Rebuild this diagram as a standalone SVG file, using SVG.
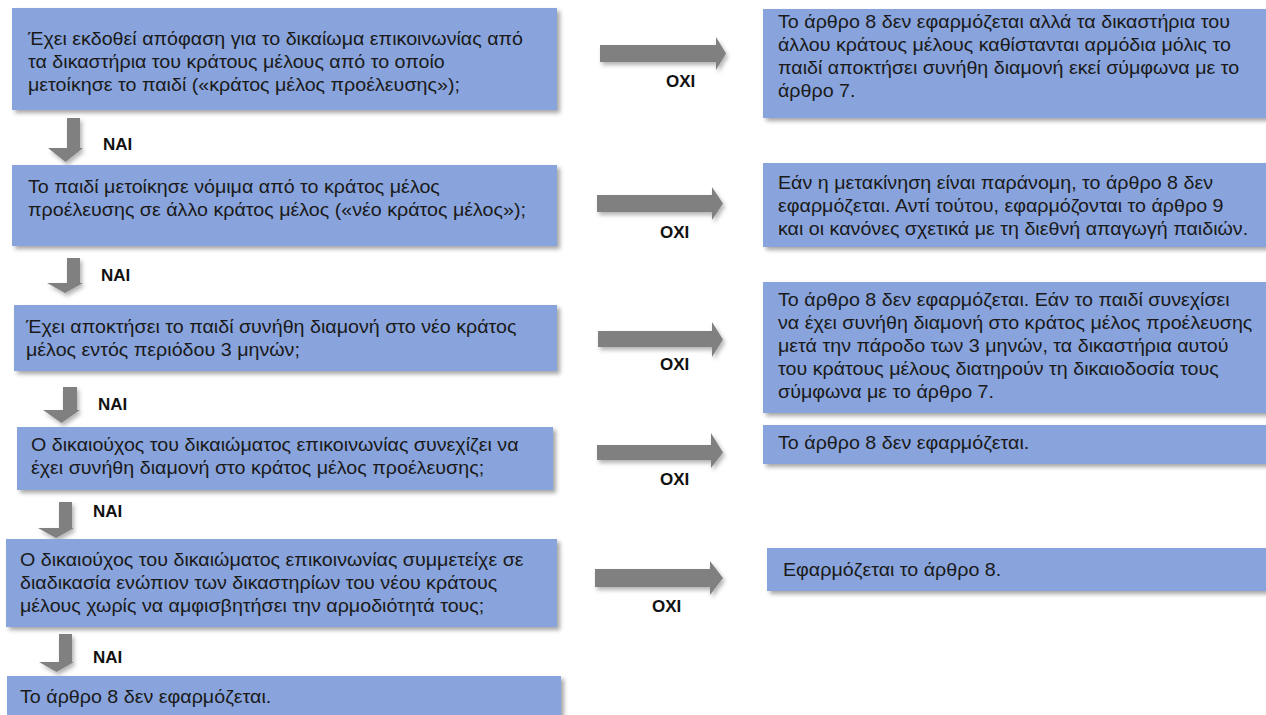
<svg xmlns="http://www.w3.org/2000/svg" width="1266" height="715" viewBox="0 0 1266 715">
<defs>
<filter id="sh" x="-5%" y="-10%" width="115%" height="130%">
<feDropShadow dx="3" dy="3" stdDeviation="2" flood-color="#000" flood-opacity="0.35"/>
</filter>
<filter id="ash" x="-10%" y="-20%" width="130%" height="160%">
<feDropShadow dx="2" dy="3" stdDeviation="2" flood-color="#000" flood-opacity="0.3"/>
</filter>
</defs>
<style>
.box{fill:#89A4DC;filter:url(#sh)}
.t{font-family:"Liberation Sans",Arial,sans-serif;font-size:17.5px;fill:#1a1a1a}
.lab{font-family:"Liberation Sans",Arial,sans-serif;font-size:17px;font-weight:bold;fill:#111}
.arr{fill:#808080;filter:url(#ash)}
</style>
<rect width="1266" height="715" fill="#fff"/>

<g id="connectors">
<path class="arr" d="M67,118 H80 V148 H83 L65.5,162 L48,148 H67 Z"/>
<path class="arr" d="M67,258 H80 V283 H83 L65,293 L47,283 H67 Z"/>
<path class="arr" d="M63,387 H77 V410 H80 L61.5,423 L43,410 H63 Z"/>
<path class="arr" d="M59,502 H72 V528 H74 L56,538 L38,528 H59 Z"/>
<path class="arr" d="M59,634 H72 V662 H74 L56.5,672 L39,662 H59 Z"/>
<path class="arr" d="M600,45 H716 V37 L726,53.5 L716,70 V62 H600 Z"/>
<path class="arr" d="M597,195 H712 V187 L723,203.5 L712,220 V212 H597 Z"/>
<path class="arr" d="M598,331 H712 V322 L723,339.5 L712,357 V347 H598 Z"/>
<path class="arr" d="M597,445 H711 V433 L723,452.5 L711,468 V460 H597 Z"/>
<path class="arr" d="M595,569 H710 V561 L723,578 L710,595 V587 H595 Z"/>
<text class="lab" x="103" y="150">NAI</text>
<text class="lab" x="101" y="281">NAI</text>
<text class="lab" x="98" y="410">NAI</text>
<text class="lab" x="93" y="517">NAI</text>
<text class="lab" x="93" y="663">NAI</text>
<text class="lab" x="666" y="87">OXI</text>
<text class="lab" x="660" y="238">OXI</text>
<text class="lab" x="660" y="370">OXI</text>
<text class="lab" x="660" y="485">OXI</text>
<text class="lab" x="652" y="612">OXI</text>
</g>

<g id="q1">
<rect class="box" x="12" y="8" width="545" height="102"/>
<text class="t" transform="translate(28,0) scale(1.125,1)"><tspan x="0" y="45">Έχει εκδοθεί απόφαση για το δικαίωμα επικοινωνίας από</tspan><tspan x="0" y="68">τα δικαστήρια του κράτους μέλους από το οποίο</tspan><tspan x="0" y="91">μετοίκησε το παιδί («κράτος μέλος προέλευσης»);</tspan></text>
</g>
<g id="q2">
<rect class="box" x="12" y="165" width="545" height="81"/>
<text class="t" transform="translate(28,0) scale(1.125,1)"><tspan x="0" y="193">Το παιδί μετοίκησε νόμιμα από το κράτος μέλος</tspan><tspan x="0" y="216">προέλευσης σε άλλο κράτος μέλος («νέο κράτος μέλος»);</tspan></text>
</g>
<g id="q3">
<rect class="box" x="14" y="305" width="543" height="66"/>
<text class="t" transform="translate(26,0) scale(1.125,1)"><tspan x="0" y="333">Έχει αποκτήσει το παιδί συνήθη διαμονή στο νέο κράτος</tspan><tspan x="0" y="356">μέλος εντός περιόδου 3 μηνών;</tspan></text>
</g>
<g id="q4">
<rect class="box" x="17" y="427" width="536" height="63"/>
<text class="t" transform="translate(31,0) scale(1.125,1)"><tspan x="0" y="451">Ο δικαιούχος του δικαιώματος επικοινωνίας συνεχίζει να</tspan><tspan x="0" y="474">έχει συνήθη διαμονή στο κράτος μέλος προέλευσης;</tspan></text>
</g>
<g id="q5">
<rect class="box" x="6" y="539" width="551" height="88"/>
<text class="t" transform="translate(20,0) scale(1.125,1)"><tspan x="0" y="566">Ο δικαιούχος του δικαιώματος επικοινωνίας συμμετείχε σε</tspan><tspan x="0" y="589">διαδικασία ενώπιον των δικαστηρίων του νέου κράτους</tspan><tspan x="0" y="612">μέλους χωρίς να αμφισβητήσει την αρμοδιότητά τους;</tspan></text>
</g>
<g id="end1">
<rect class="box" x="7" y="676" width="554" height="45"/>
<text class="t" transform="translate(20,0) scale(1.125,1)" x="0" y="703">Το άρθρο 8 δεν εφαρμόζεται.</text>
</g>

<g id="r1">
<rect class="box" x="763" y="9" width="510" height="109"/>
<text class="t" transform="translate(778,0) scale(1.125,1)"><tspan x="0" y="28">Το άρθρο 8 δεν εφαρμόζεται αλλά τα δικαστήρια του</tspan><tspan x="0" y="51">άλλου κράτους μέλους καθίστανται αρμόδια μόλις το</tspan><tspan x="0" y="74">παιδί αποκτήσει συνήθη διαμονή εκεί σύμφωνα με το</tspan><tspan x="0" y="97">άρθρο 7.</tspan></text>
</g>
<g id="r2">
<rect class="box" x="763" y="163" width="510" height="84"/>
<text class="t" transform="translate(778,0) scale(1.125,1)"><tspan x="0" y="189">Εάν η μετακίνηση είναι παράνομη, το άρθρο 8 δεν</tspan><tspan x="0" y="212">εφαρμόζεται. Αντί τούτου, εφαρμόζονται το άρθρο 9</tspan><tspan x="0" y="235">και οι κανόνες σχετικά με τη διεθνή απαγωγή παιδιών.</tspan></text>
</g>
<g id="r3">
<rect class="box" x="763" y="282" width="510" height="131"/>
<text class="t" transform="translate(778,0) scale(1.125,1)"><tspan x="0" y="306">Το άρθρο 8 δεν εφαρμόζεται. Εάν το παιδί συνεχίσει</tspan><tspan x="0" y="329">να έχει συνήθη διαμονή στο κράτος μέλος προέλευσης</tspan><tspan x="0" y="352">μετά την πάροδο των 3 μηνών, τα δικαστήρια αυτού</tspan><tspan x="0" y="375">του κράτους μέλους διατηρούν τη δικαιοδοσία τους</tspan><tspan x="0" y="398">σύμφωνα με το άρθρο 7.</tspan></text>
</g>
<g id="r4">
<rect class="box" x="763" y="425" width="510" height="39"/>
<text class="t" transform="translate(778,0) scale(1.125,1)" x="0" y="449">Το άρθρο 8 δεν εφαρμόζεται.</text>
</g>
<g id="r5">
<rect class="box" x="767" y="548" width="506" height="43"/>
<text class="t" transform="translate(783,0) scale(1.125,1)" x="0" y="576">Εφαρμόζεται το άρθρο 8.</text>
</g>
</svg>
